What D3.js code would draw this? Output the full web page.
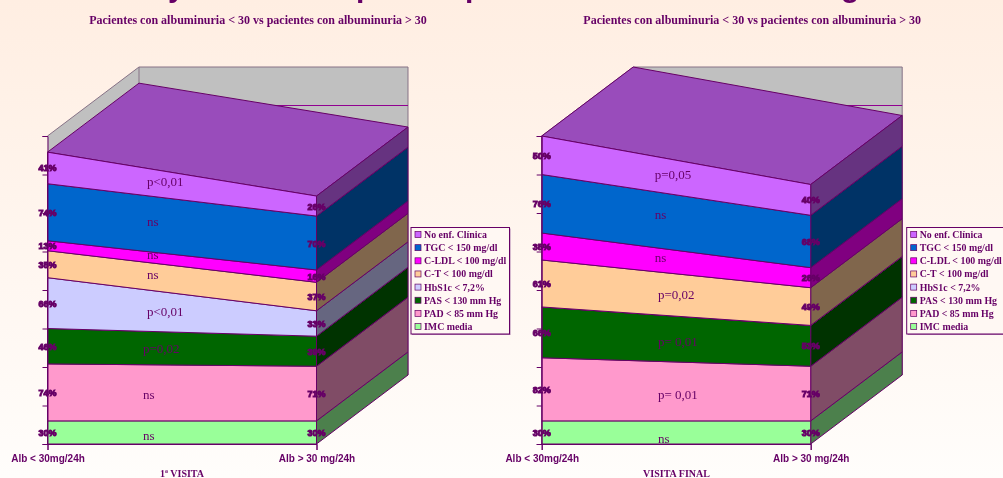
<!DOCTYPE html>
<html>
<head>
<meta charset="utf-8">
<script src="https://cdn.jsdelivr.net/npm/d3@7"></script>
<style>
html,body{margin:0;padding:0;width:1003px;height:478px;overflow:hidden}
svg{display:block;filter:blur(.3px)}
</style>
</head>
<body>
<svg id="chart" width="1003" height="478"></svg>
<script>
// values, bottom of the stack first
var seriesNames = ["IMC media","PAD < 85 mm Hg","PAS < 130 mm Hg","HbS1c < 7,2%","C-T < 100 mg/dl","C-LDL < 100 mg/dl","TGC < 150 mg/dl","No enf. Clínica"];
var groups = ["Alb < 30mg/24h","Alb > 30 mg/24h"];

var visit1Low  = [30,74,46,66,35,13,74,41];
var visit1High = [30,71,39,33,37,16,70,26];
var finalLow   = [30,82,66,0,61,35,76,50];
var finalHigh  = [30,71,53,0,49,26,68,40];

var frontColors = ["#99FF99","#FF99CC","#006600","#CCCCFF","#FFCC99","#FF00FF","#0066CC","#CC66FF"];
var sideColors  = ["#4C804C","#804C66","#003300","#666680","#80664C","#800080","#003366","#663380"];
var topColor = "#994CBB";
var ink = "#660066";

// p value notes, and where they sit: share of the chart width, axis value
var visit1Notes = ["ns","ns","p=0,02","p<0,01","ns","ns","ns","p<0,01"];
var visit1NoteX = [.355,.355,.355,.37,.37,.37,.37,.37];
var visit1NoteY = [10,64,123,171,219,245,288,340];
var finalNotes = ["ns","p= 0,01","p= 0,01","p=0,02","ns","ns","p=0,05"];
var finalNoteX = [.432,.432,.432,.432,.42,.42,.42];
var finalNoteY = [6,64,132,193,242,298,349];

// the main title is cut off by the page top, only these descenders show
var titleGlyphs = ["y","p","p","g"];
var titleGlyphX = [168,356,465,841];

var svg = d3.select("#chart");

var defs = svg.append("defs");
var grad = defs.append("linearGradient").attr("id","bg").attr("x1",0).attr("x2",0).attr("y1",0).attr("y2",1);
grad.append("stop").attr("offset","0%").attr("stop-color","#FFEEE2");
grad.append("stop").attr("offset","100%").attr("stop-color","#FFFDFB");
svg.append("rect").attr("width",1003).attr("height",478).attr("fill","url(#bg)");

svg.selectAll("text.glyph").data(titleGlyphs).enter().append("text")
	.attr("class","glyph")
	.attr("x",function(d,i){return titleGlyphX[i];})
	.attr("y",-3)
	.attr("font-family","Liberation Sans").attr("font-weight","bold").attr("font-size",30)
	.attr("fill",ink)
	.text(function(d){return d;});

function drawChart(args){
	var g = svg.append("g");
	var depthX = 91.5, depthY = -69;

	var x = d3.scalePoint().domain(groups).range([args.left,args.left+269]);
	var y = d3.scaleLinear().domain([0,400]).range([444,136]);

	var rows = groups.map(function(name,i){
		var row = {name:name};
		seriesNames.forEach(function(s,k){ row[s] = args.values[i][k]; });
		return row;
	});
	var layers = d3.stack().keys(seriesNames)(rows);

	var xA = x(groups[0]), xB = x(groups[1]);
	var poly = function(pts){ return d3.line()(pts); };

	// walls
	g.append("path")
		.attr("d",poly([[xA,y(400)],[xA+depthX,y(400)+depthY],[xB+depthX,y(400)+depthY],[xB+depthX,y(0)+depthY],[xA+depthX,y(0)+depthY],[xA,y(0)]]))
		.attr("fill","#C0C0C0").attr("stroke","#867286").attr("stroke-width",1);
	g.append("line").attr("x1",xA+depthX).attr("x2",xA+depthX)
		.attr("y1",y(400)+depthY).attr("y2",y(0)+depthY)
		.attr("stroke","#867286");

	// gridlines on the back wall
	g.selectAll("line.grid").data(d3.range(50,400,50)).enter().append("line")
		.attr("class","grid")
		.attr("x1",xA+depthX).attr("x2",xB+depthX)
		.attr("y1",function(d){return y(d)+depthY;})
		.attr("y2",function(d){return y(d)+depthY;})
		.attr("stroke","#900090");

	// top of the stack
	var last = layers[layers.length-1];
	g.append("path")
		.attr("d",poly([[xA,y(last[0][1])],[xB,y(last[1][1])],[xB+depthX,y(last[1][1])+depthY],[xA+depthX,y(last[0][1])+depthY]])+"Z")
		.attr("fill",topColor).attr("stroke",ink);

	// side faces
	g.selectAll("path.side").data(layers).enter().append("path")
		.attr("class","side")
		.attr("d",function(d){
			return poly([[xB,y(d[1][0])],[xB+depthX,y(d[1][0])+depthY],[xB+depthX,y(d[1][1])+depthY],[xB,y(d[1][1])]])+"Z";
		})
		.attr("fill",function(d,i){return sideColors[i];})
		.attr("stroke",ink);

	// front faces
	g.selectAll("path.front").data(layers).enter().append("path")
		.attr("class","front")
		.attr("d",function(d){
			return poly([[xA,y(d[0][0])],[xB,y(d[1][0])],[xB,y(d[1][1])],[xA,y(d[0][1])]])+"Z";
		})
		.attr("fill",function(d,i){return frontColors[i];})
		.attr("stroke",ink);

	// axes
	var yAxis = g.append("g").attr("transform","translate("+xA+",0)")
		.call(d3.axisLeft(y).tickValues(d3.range(0,401,50)).tickSize(5).tickFormat(""));
	yAxis.selectAll("path,line").attr("stroke",ink);

	var xAxis = g.append("g").attr("transform","translate(0,"+y(0)+")")
		.call(d3.axisBottom(x).tickSize(6).tickPadding(5));
	xAxis.selectAll("path,line").attr("stroke",ink);
	xAxis.selectAll("text")
		.attr("font-family","Liberation Sans").attr("font-weight","bold").attr("font-size",10)
		.attr("fill",ink);

	// percent labels
	layers.forEach(function(layer){
		layer.forEach(function(pt,i){
			if(pt[1]-pt[0] === 0) return;
			g.append("text")
				.attr("x",x(groups[i]))
				.attr("y",y((pt[0]+pt[1])/2)+3.5)
				.attr("text-anchor","middle")
				.attr("font-family","Liberation Sans").attr("font-weight","bold").attr("font-size",9)
				.attr("fill",ink).attr("stroke",ink).attr("stroke-width",1)
				.text((pt[1]-pt[0])+"%");
		});
	});

	// p value notes
	g.selectAll("text.note").data(args.notes).enter().append("text")
		.attr("class","note")
		.attr("x",function(d,i){return xA+args.noteX[i]*(xB-xA);})
		.attr("y",function(d,i){return y(args.noteY[i])+4;})
		.attr("font-family","Liberation Serif").attr("font-size",13)
		.attr("fill",ink)
		.text(function(d){return d;});

	// titles
	g.append("text").attr("x",args.left+210.5).attr("y",24)
		.attr("text-anchor","middle")
		.attr("font-family","Liberation Serif").attr("font-weight","bold").attr("font-size",12)
		.attr("fill",ink)
		.text("Pacientes con albuminuria < 30 vs pacientes con albuminuria > 30");
	g.append("text").attr("x",args.left+args.captionShift).attr("y",477)
		.attr("text-anchor","middle")
		.attr("font-family","Liberation Serif").attr("font-weight","bold").attr("font-size",10)
		.attr("fill",ink)
		.text(args.caption);

	// legend
	var legendX = args.left+args.legendShift, legendY = 227.5;
	g.append("rect").attr("x",legendX+1).attr("y",legendY+1).attr("width",98.5).attr("height",106.5).attr("fill","#B080B0");
	g.append("rect").attr("x",legendX).attr("y",legendY).attr("width",98.5).attr("height",106.5)
		.attr("fill","#FFF8F3").attr("stroke",ink);

	var legendRows = seriesNames.slice().reverse();
	var item = g.selectAll("g.item").data(legendRows).enter().append("g")
		.attr("class","item")
		.attr("transform",function(d,i){return "translate("+(legendX+4)+","+(legendY+7+i*13.15)+")";});
	item.append("rect").attr("x",0).attr("y",-3).attr("width",6).attr("height",6)
		.attr("fill",function(d){return frontColors[seriesNames.indexOf(d)];})
		.attr("stroke",ink).attr("stroke-width",.7);
	item.append("text").attr("x",9).attr("y",3.4)
		.attr("font-family","Liberation Serif").attr("font-weight","bold").attr("font-size",9.9)
		.attr("fill",ink)
		.text(function(d){return d;});
}

drawChart({
	left:47.5, values:[visit1Low,visit1High],
	notes:visit1Notes, noteX:visit1NoteX, noteY:visit1NoteY,
	caption:"1ª VISITA", captionShift:134.5, legendShift:363.5
});
drawChart({
	left:541.7, values:[finalLow,finalHigh],
	notes:finalNotes, noteX:finalNoteX, noteY:finalNoteY,
	caption:"VISITA FINAL", captionShift:134.8, legendShift:365
});
</script>
</body>
</html>
